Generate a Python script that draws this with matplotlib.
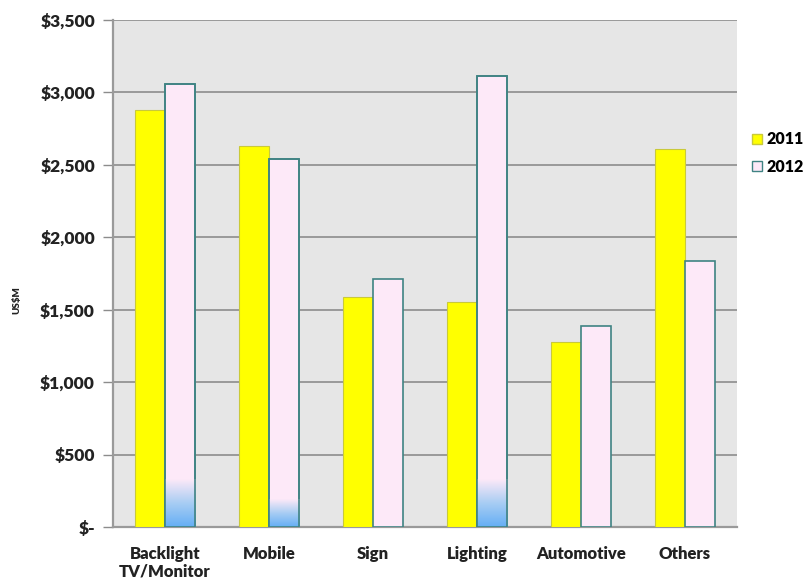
import numpy as np
import matplotlib
matplotlib.use("Agg")
import matplotlib.pyplot as plt
from matplotlib.colors import LinearSegmentedColormap
from matplotlib.patches import Patch

categories = ["Backlight\nTV/Monitor", "Mobile", "Sign", "Lighting", "Automotive", "Others"]
sales_2011 = [2880, 2630, 1590, 1550, 1280, 2610]
sales_2012 = [3060, 2540, 1710, 3110, 1390, 1835]
# height of the blue shading at the foot of some 2012 bars
shade_2012 = [330, 190, 0, 330, 0, 0]
y_ticks = [0, 500, 1000, 1500, 2000, 2500, 3000, 3500]
y_tick_labels = ["$-", "$500", "$1,000", "$1,500", "$2,000", "$2,500", "$3,000", "$3,500"]

plt.rcParams["font.family"] = ["Lato", "DejaVu Sans"]
plt.rcParams["font.weight"] = "heavy"
FW = "heavy"

fig = plt.figure(figsize=(8.05, 5.86), dpi=100)
ax = fig.add_axes([113 / 805, 1 - 527 / 586, 624 / 805, 507 / 586])
ax.set_facecolor("#e6e6e6")

x = np.arange(len(categories))
w = 0.29
yellow = "#ffff00"
pink = "#fde9f8"
teal = "#3f8383"

ax.bar(x - w / 2, sales_2011, w, color=yellow, edgecolor="#c9c93a", linewidth=0.8, zorder=3, label="2011")
bars12 = ax.bar(x + w / 2, sales_2012, w, color=pink, edgecolor=teal, linewidth=1.2, zorder=3, label="2012")

shade = LinearSegmentedColormap.from_list("shade", ["#64aef5", "#a8cdf3", pink])
grad = np.linspace(0, 1, 256).reshape(-1, 1)
for bar, h in zip(bars12, shade_2012):
    if h <= 0:
        continue
    x0 = bar.get_x()
    im = ax.imshow(grad, cmap=shade, aspect="auto", origin="lower",
                   extent=(x0, x0 + bar.get_width(), 0, h), zorder=3.5, interpolation="bicubic")
    im.set_clip_path(bar)
    ax.bar(bar.get_x() + bar.get_width() / 2, bar.get_height(), bar.get_width(),
           color="none", edgecolor=teal, linewidth=1.2, zorder=4)

ax.set_xlim(-0.5, len(categories) - 0.5)
ax.set_ylim(0, 3500)
ax.set_yticks(y_ticks)
ax.set_yticklabels(y_tick_labels, fontsize=12.5, fontweight=FW, color="#222222")
ax.set_xticks(x)
ax.set_xticklabels(categories, fontsize=12, fontweight=FW, color="#222222", linespacing=1.1)
ax.tick_params(axis="x", length=0, pad=14)
ax.tick_params(axis="y", length=7, color="#8c8c8c", width=1, pad=6)
ax.yaxis.grid(True, color="#8c8c8c", linewidth=1.2, zorder=1)
ax.set_axisbelow(True)

for side in ["top", "right"]:
    ax.spines[side].set_visible(False)
for side in ["left", "bottom"]:
    ax.spines[side].set_color("#9a9a9a")
    ax.spines[side].set_linewidth(1.6)

fig.text(17 / 805, 1 - 300 / 586, "US$M", rotation=90, fontsize=7, fontweight=FW,
         color="#222222", ha="center", va="center")

handles = [Patch(facecolor=yellow, edgecolor="#c9c93a", label="2011"),
           Patch(facecolor=pink, edgecolor=teal, label="2012")]
fig.legend(handles=handles, loc="center left", bbox_to_anchor=(741 / 805, 1 - 153 / 586),
           frameon=False, handlelength=0.6, handleheight=0.6, borderpad=0.2,
           handletextpad=0.3, labelspacing=0.7, prop={"weight": FW, "size": 11.5})

fig.savefig("out.png", dpi=100)
